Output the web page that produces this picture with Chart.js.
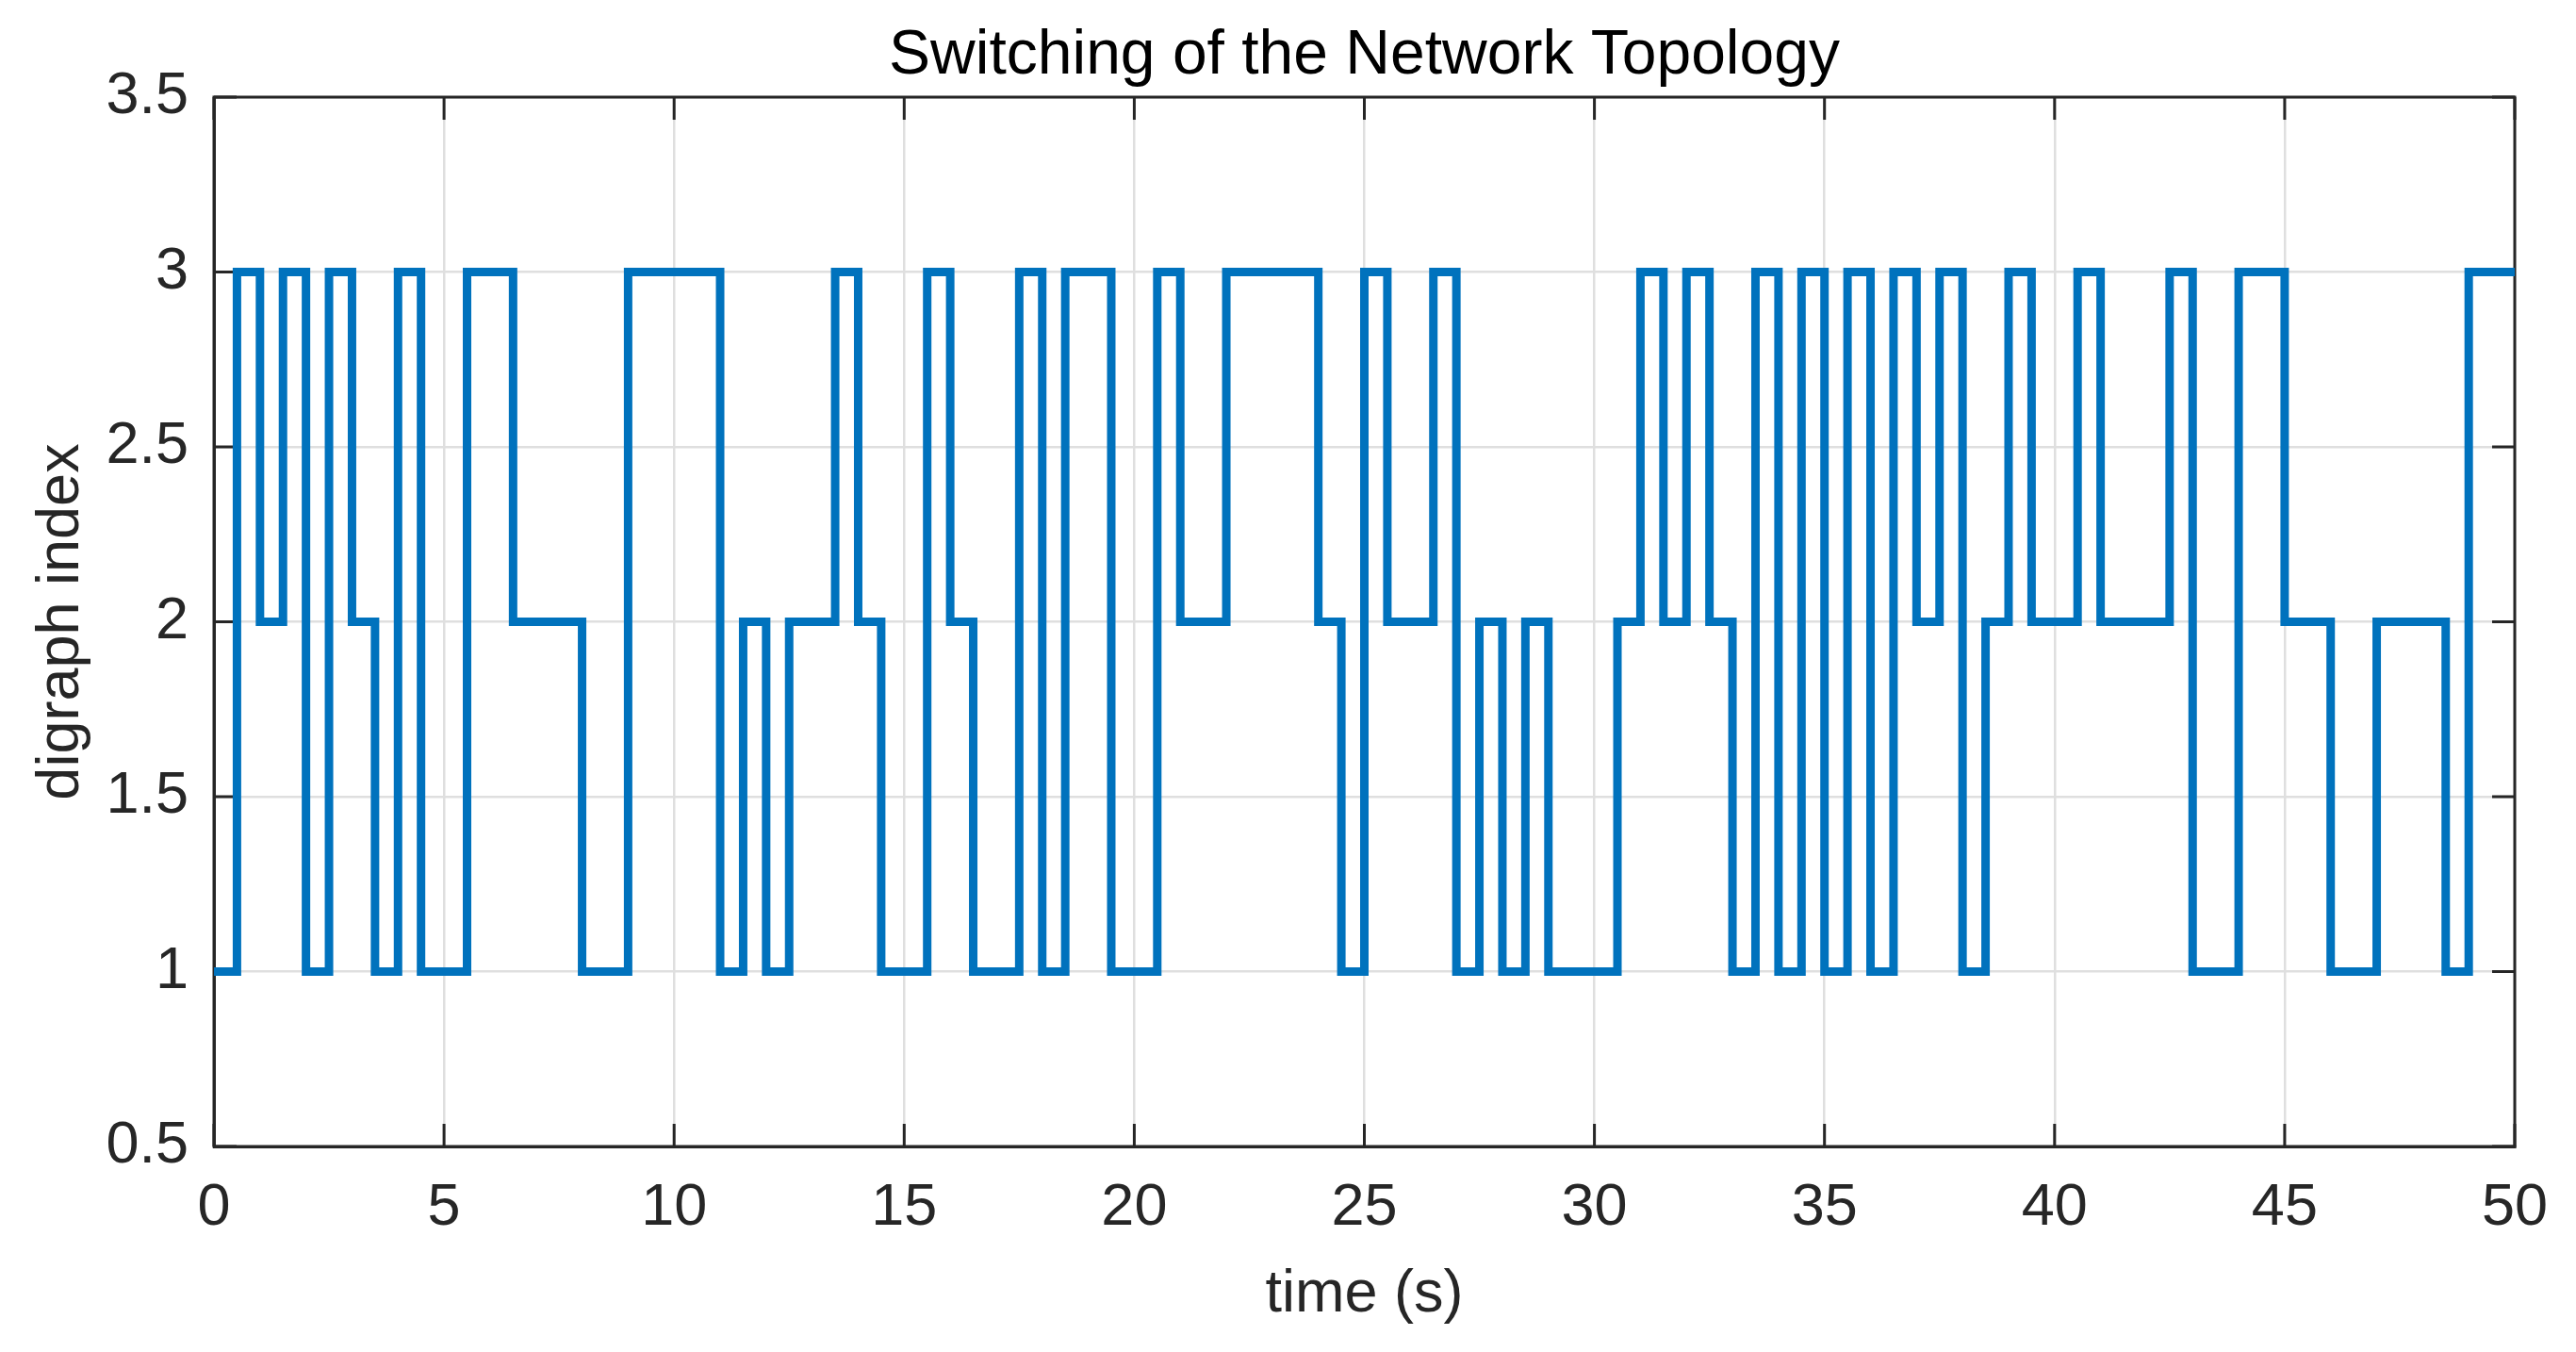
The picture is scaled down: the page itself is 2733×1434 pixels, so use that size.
<!DOCTYPE html>
<html lang="en">
<head>
    <meta charset="UTF-8">
    <title>Switching of the Network Topology</title>
    <style>
        html, body {
            margin: 0;
            padding: 0;
            background: #ffffff;
        }
        #chart-box {
            width: 2733px;
            height: 1434px;
        }
    </style>
    <script src="https://cdn.jsdelivr.net/npm/chart.js"></script>
</head>
<body>
    <div id="chart-box">
        <canvas id="topologyChart" width="2733" height="1434"></canvas>
    </div>

    <script>
        // times (s) at which the active digraph changes, and the index from that moment on
        const switchTimes = [0, 0.5, 1, 1.5, 2, 2.5, 3, 3.5, 4, 4.5,
            5.5, 6.5, 8, 9, 11, 11.5, 12, 12.5, 13.5, 14,
            14.5, 15.5, 16, 16.5, 17.5, 18, 18.5, 19.5, 20.5, 21,
            22, 24, 24.5, 25, 25.5, 26.5, 27, 27.5, 28, 28.5,
            29, 30.5, 31, 31.5, 32, 32.5, 33, 33.5, 34, 34.5,
            35, 35.5, 36, 36.5, 37, 37.5, 38, 38.5, 39, 39.5,
            40.5, 41, 42.5, 43, 44, 45, 46, 47, 48.5, 49, 50];
        const digraphIndex = [1, 3, 2, 3, 1, 3, 2, 1, 3, 1,
            3, 2, 1, 3, 1, 2, 1, 2, 3, 2,
            1, 3, 2, 1, 3, 1, 3, 1, 3, 2,
            3, 2, 1, 3, 2, 3, 1, 2, 1, 2,
            1, 2, 3, 2, 3, 2, 1, 3, 1, 3,
            1, 3, 1, 3, 2, 3, 1, 2, 3, 2,
            3, 2, 3, 1, 3, 2, 1, 2, 1, 3, 3];

        const xTickValues = [0, 5, 10, 15, 20, 25, 30, 35, 40, 45, 50];
        const yTickValues = [0.5, 1, 1.5, 2, 2.5, 3, 3.5];

        const FONT = "'Liberation Sans', Arial, Helvetica, sans-serif";
        const AXIS_COLOR = '#262626';
        const TICK_LEN = 24;

        // matlab style box: frame on all four sides, ticks pointing inward
        const boxTicks = {
            id: 'boxTicks',
            beforeDatasetsDraw(chart) {
                const { ctx, chartArea: a, scales: { x, y } } = chart;
                ctx.save();
                ctx.strokeStyle = AXIS_COLOR;
                ctx.lineWidth = 3;
                ctx.beginPath();
                xTickValues.forEach(v => {
                    const px = x.getPixelForValue(v);
                    ctx.moveTo(px, a.bottom);
                    ctx.lineTo(px, a.bottom - TICK_LEN);
                    ctx.moveTo(px, a.top);
                    ctx.lineTo(px, a.top + TICK_LEN);
                });
                yTickValues.forEach(v => {
                    const py = y.getPixelForValue(v);
                    ctx.moveTo(a.left, py);
                    ctx.lineTo(a.left + TICK_LEN, py);
                    ctx.moveTo(a.right, py);
                    ctx.lineTo(a.right - TICK_LEN, py);
                });
                ctx.stroke();
                ctx.strokeRect(a.left, a.top, a.right - a.left, a.bottom - a.top);
                ctx.restore();
            }
        };

        const ctx = document.getElementById('topologyChart').getContext('2d');
        const chart = new Chart(ctx, {
            type: 'line',
            data: {
                datasets: [{
                    data: switchTimes.map((t, i) => ({ x: t, y: digraphIndex[i] })),
                    stepped: 'before',
                    borderColor: '#0072BD',
                    borderWidth: 9,
                    borderJoinStyle: 'miter',
                    pointRadius: 0,
                    fill: false,
                    tension: 0
                }]
            },
            options: {
                responsive: false,
                animation: false,
                devicePixelRatio: 1,
                layout: { padding: { left: 0, right: 65, top: 0, bottom: 0 } },
                plugins: {
                    legend: { display: false },
                    tooltip: { enabled: false },
                    title: {
                        display: true,
                        fullSize: false,
                        text: 'Switching of the Network Topology',
                        color: '#000000',
                        font: { family: FONT, size: 66, weight: 'normal', lineHeight: 1.2 },
                        padding: { top: 20, bottom: 3.8 }
                    }
                },
                scales: {
                    x: {
                        type: 'linear',
                        min: 0,
                        max: 50,
                        afterBuildTicks: s => { s.ticks = xTickValues.map(v => ({ value: v })); },
                        afterFit: s => { s.height = 218; },
                        ticks: {
                            color: AXIS_COLOR,
                            font: { family: FONT, size: 63 },
                            padding: 28,
                            maxRotation: 0,
                            autoSkip: false,
                            callback: v => String(v)
                        },
                        grid: { color: '#dfdfdf', lineWidth: 2.5, drawTicks: false },
                        border: { display: true, color: AXIS_COLOR, width: 3 },
                        title: {
                            display: true,
                            text: 'time (s)',
                            color: AXIS_COLOR,
                            font: { family: FONT, size: 63 },
                            padding: { top: 0, bottom: 23 }
                        }
                    },
                    y: {
                        type: 'linear',
                        min: 0.5,
                        max: 3.5,
                        afterBuildTicks: s => { s.ticks = yTickValues.map(v => ({ value: v })); },
                        afterFit: s => { s.width = 227; },
                        ticks: {
                            color: AXIS_COLOR,
                            font: { family: FONT, size: 63 },
                            padding: 27,
                            autoSkip: false,
                            callback: v => String(v)
                        },
                        grid: { color: '#dfdfdf', lineWidth: 2.5, drawTicks: false },
                        border: { display: true, color: AXIS_COLOR, width: 3 },
                        title: {
                            display: true,
                            text: 'digraph index',
                            color: AXIS_COLOR,
                            font: { family: FONT, size: 63 },
                            padding: { top: 28, bottom: 0 }
                        }
                    }
                }
            },
            plugins: [boxTicks]
        });
    </script>
</body>
</html>
